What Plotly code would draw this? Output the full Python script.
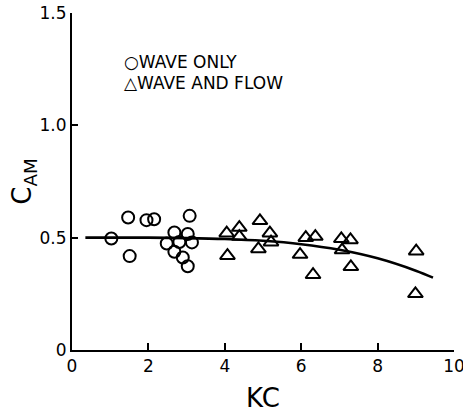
import plotly.graph_objects as go

# Data
kc_wave = [1.03, 1.47, 1.51, 1.95, 2.15, 2.48, 2.68, 2.68, 2.81, 2.90, 3.03, 3.03, 3.08, 3.14]
cam_wave = [0.496, 0.59, 0.418, 0.578, 0.582, 0.474, 0.523, 0.437, 0.481, 0.412, 0.516, 0.373, 0.597, 0.479]

kc_flow = [4.05, 4.07, 4.38, 4.38, 4.88, 4.92, 5.18, 5.21, 5.97, 6.12, 6.31, 6.37, 7.05, 7.07, 7.29, 7.30, 9.01, 8.99]
cam_flow = [0.52, 0.42, 0.545, 0.505, 0.45, 0.575, 0.52, 0.48, 0.425, 0.50, 0.335, 0.505, 0.495, 0.445, 0.49, 0.37, 0.44, 0.25]

kc_curve = [0.35, 1, 2, 3, 4, 5, 6, 7, 8, 9, 9.45]
cam_curve = [0.50, 0.50, 0.50, 0.498, 0.494, 0.486, 0.471, 0.446, 0.408, 0.353, 0.322]

x_ticks = [0, 2, 4, 6, 8, 10]
y_ticks = [0, 0.5, 1.0, 1.5]
y_tick_labels = ["0", "0.5", "1.0", "1.5"]

FONT = "DejaVu Sans"

fig = go.Figure()
fig.add_trace(go.Scatter(x=kc_curve, y=cam_curve, mode="lines", line=dict(color="black", width=2.6, shape="spline"),
                         showlegend=False, hoverinfo="skip"))
fig.add_trace(go.Scatter(x=kc_wave, y=cam_wave, mode="markers", name="WAVE ONLY",
                         marker=dict(symbol="circle-open", size=12, color="black", line=dict(width=2)),
                         showlegend=False))
fig.add_trace(go.Scatter(x=kc_flow, y=cam_flow, mode="markers", name="WAVE AND FLOW",
                         marker=dict(symbol="triangle-up-open", size=13, color="black", line=dict(width=2)),
                         showlegend=False))

fig.add_annotation(x=1.3, y=1.28, xref="x", yref="y", text="○WAVE ONLY", showarrow=False,
                   xanchor="left", yanchor="middle", font=dict(family=FONT, size=17, color="black"))
fig.add_annotation(x=1.3, y=1.19, xref="x", yref="y", text="△WAVE AND FLOW", showarrow=False,
                   xanchor="left", yanchor="middle", font=dict(family=FONT, size=17, color="black"))

fig.update_layout(
    width=463, height=416,
    margin=dict(l=72, r=9, t=13, b=66, autoexpand=False),
    paper_bgcolor="white", plot_bgcolor="white",
    font=dict(family=FONT, color="black", size=16),
)
fig.update_xaxes(range=[0, 10], tickvals=x_ticks, ticks="inside", ticklen=7, tickwidth=1.5, tickcolor="black",
                 showline=True, linewidth=2, linecolor="black", showgrid=False, zeroline=False,
                 tickfont=dict(size=17), ticklabeloverflow="allow", automargin=False,
                 title=dict(text="KC", font=dict(size=26), standoff=13))
fig.update_yaxes(range=[0, 1.5], tickvals=y_ticks, ticktext=y_tick_labels, ticks="inside", ticklen=6, tickwidth=1.5,
                 tickcolor="black", showline=True, linewidth=2, linecolor="black", showgrid=False, zeroline=False,
                 tickfont=dict(size=17), automargin=False,
                 title=dict(text="C<sub>AM</sub>", font=dict(size=26), standoff=0))

fig.write_html("out.html")
